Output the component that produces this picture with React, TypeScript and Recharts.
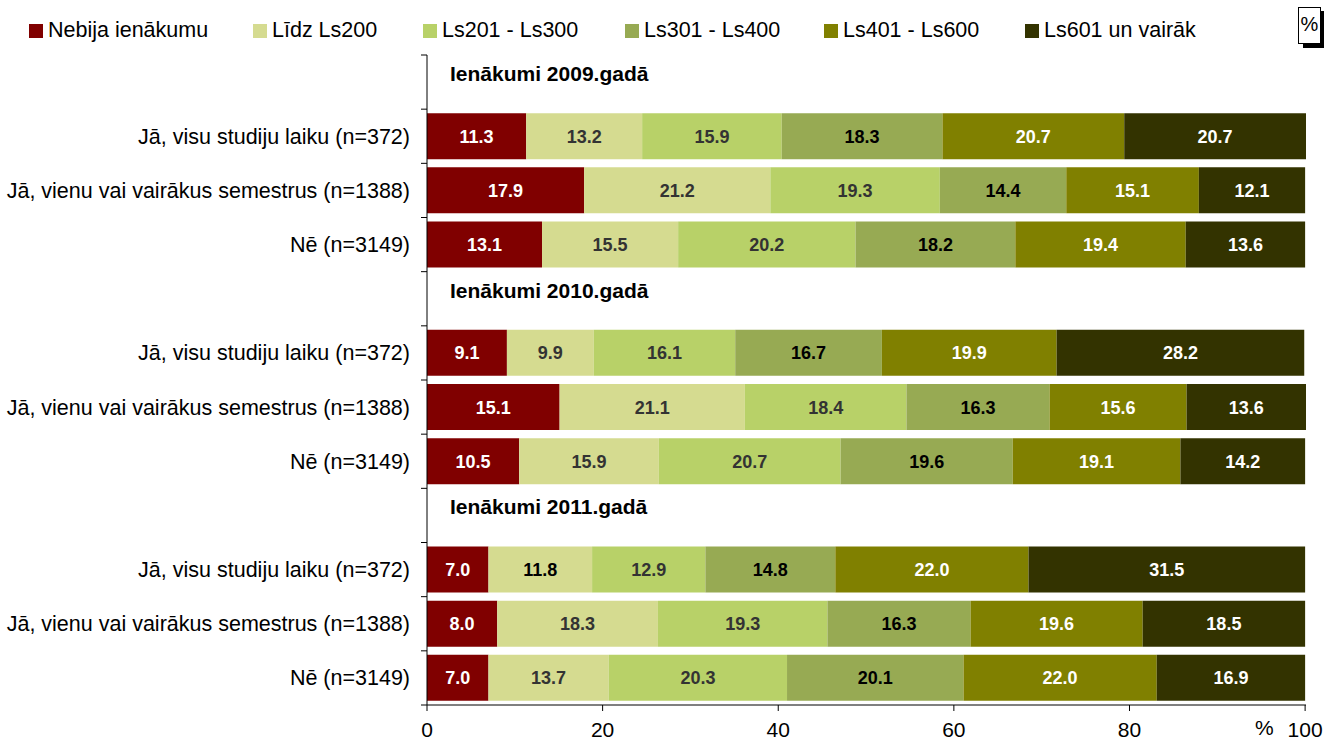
import { BarChart, Bar, XAxis, YAxis, LabelList } from "recharts";

// ─── Data ─────────────────────────────────────────────────────────────────────
const GROUPS = ["Ienākumi 2009.gadā", "Ienākumi 2010.gadā", "Ienākumi 2011.gadā"];
const RESPONDENTS = [
  "Jā, visu studiju laiku (n=372)",
  "Jā, vienu vai vairākus semestrus (n=1388)",
  "Nē (n=3149)",
];
const SERIES = [
  "Nebija ienākumu",
  "Līdz Ls200",
  "Ls201 - Ls300",
  "Ls301 - Ls400",
  "Ls401 - Ls600",
  "Ls601 un vairāk",
];

// one value per bar: 2009 x3, 2010 x3, 2011 x3
const noIncome = [11.3, 17.9, 13.1, 9.1, 15.1, 10.5, 7.0, 8.0, 7.0];
const upTo200 = [13.2, 21.2, 15.5, 9.9, 21.1, 15.9, 11.8, 18.3, 13.7];
const ls201to300 = [15.9, 19.3, 20.2, 16.1, 18.4, 20.7, 12.9, 19.3, 20.3];
const ls301to400 = [18.3, 14.4, 18.2, 16.7, 16.3, 19.6, 14.8, 16.3, 20.1];
const ls401to600 = [20.7, 15.1, 19.4, 19.9, 15.6, 19.1, 22.0, 19.6, 22.0];
const ls601plus = [20.7, 12.1, 13.6, 28.2, 13.6, 14.2, 31.5, 18.5, 16.9];

const X_TICKS = [0, 20, 40, 60, 80, 100];

const SERIES_VALUES = [noIncome, upTo200, ls201to300, ls301to400, ls401to600, ls601plus];
const COLORS = ["#800000", "#D5DB90", "#B8D168", "#97AA53", "#808000", "#333300"];
const LABEL_COLORS = ["#ffffff", "#333333", "#333333", "#000000", "#ffffff", "#ffffff"];
// the original shows this one label in black (2011, first row)
const BLACK_LABELS = ["Līdz Ls200|11.8"];
const LEGEND_X = [29, 253, 423, 625, 824, 1025];

const FONT = '"Liberation Sans", Arial, sans-serif';

// header row + 3 bar rows per year
const rows: any[] = [];
GROUPS.forEach((g, gi) => {
  rows.push({ key: `h${gi}`, label: g, header: true });
  RESPONDENTS.forEach((r, ri) => {
    const row: any = { key: `r${gi}-${ri}`, label: r, header: false };
    SERIES.forEach((s, si) => {
      row[s] = SERIES_VALUES[si][gi * 3 + ri];
    });
    rows.push(row);
  });
});

const labelByKey: Record<string, any> = {};
rows.forEach((r) => (labelByKey[r.key] = r));

function CategoryTick(props: any) {
  const { x, y, payload, index, visibleTicksCount } = props;
  const half = payload?.offset ?? 27;
  const row = labelByKey[payload.value];
  const last = index === (visibleTicksCount ?? rows.length) - 1;
  return (
    <g>
      <line x1={x - 6} x2={x} y1={y - half} y2={y - half} stroke="#000" />
      {last && <line x1={x - 6} x2={x} y1={y + half} y2={y + half} stroke="#000" />}
      {row?.header ? (
        <text x={x + 23} y={y} dy={-1} fontFamily={FONT} fontSize={21} fontWeight="bold" fill="#000">
          {row.label}
        </text>
      ) : (
        <text x={x - 17} y={y} dy={7.5} textAnchor="end" fontFamily={FONT} fontSize={21.5} fill="#000">
          {row?.label}
        </text>
      )}
    </g>
  );
}

const makeLabel = (series: string, color: string) => (p: any) => {
  const { x, y, width, height, value } = p;
  if (value == null) return null;
  const txt = Number(value).toFixed(1);
  const fill = BLACK_LABELS.includes(`${series}|${txt}`) ? "#000000" : color;
  return (
    <text
      x={x + width / 2}
      y={y + height / 2}
      dy={6.5}
      textAnchor="middle"
      fontFamily={FONT}
      fontSize={18}
      fontWeight="bold"
      fill={fill}
    >
      {txt}
    </text>
  );
};

export default function App() {
  return (
    <div
      style={{
        position: "absolute",
        left: 0,
        top: 0,
        width: 1326,
        height: 745,
        background: "#fff",
        fontFamily: FONT,
      }}
    >
      {/* legend */}
      {SERIES.map((s, i) => (
        <div
          key={s}
          style={{
            position: "absolute",
            left: LEGEND_X[i],
            top: 18,
            display: "flex",
            alignItems: "center",
            fontSize: 21.5,
            color: "#000",
            whiteSpace: "nowrap",
          }}
        >
          <span
            style={{
              display: "inline-block",
              width: 14,
              height: 14,
              background: COLORS[i],
              marginRight: 5,
            }}
          />
          <span>{s}</span>
        </div>
      ))}

      {/* % box */}
      <div style={{ position: "absolute", left: 1303, top: 11, width: 21, height: 37, background: "#000" }} />
      <div
        style={{
          position: "absolute",
          left: 1298,
          top: 7,
          width: 21,
          height: 35,
          background: "#fff",
          border: "1px solid #000",
          fontSize: 20,
          textAlign: "center",
          lineHeight: "32px",
        }}
      >
        %
      </div>

      <span style={{ position: "absolute", left: 1255, top: 716, fontSize: 21, color: "#000" }}>%</span>

      <BarChart
        width={1326}
        height={745}
        data={rows}
        layout="vertical"
        margin={{ top: 55, right: 20, bottom: 0, left: 0 }}
        barCategoryGap={4}
      >
        <XAxis
          type="number"
          domain={[0, 100]}
          ticks={X_TICKS}
          height={40}
          axisLine={{ stroke: "#000" }}
          tickLine={{ stroke: "#000" }}
          tickSize={6}
          tickMargin={11}
          tick={{ fill: "#000", fontSize: 21, fontFamily: FONT }}
        />
        <YAxis
          type="category"
          dataKey="key"
          width={427}
          axisLine={{ stroke: "#000" }}
          tickLine={false}
          tickSize={0}
          tickMargin={0}
          interval={0}
          tick={<CategoryTick />}
        />
        {SERIES.map((s, i) => (
          <Bar key={s} dataKey={s} stackId="a" fill={COLORS[i]} isAnimationActive={false}>
            <LabelList dataKey={s} content={makeLabel(s, LABEL_COLORS[i])} />
          </Bar>
        ))}
      </BarChart>
    </div>
  );
}
